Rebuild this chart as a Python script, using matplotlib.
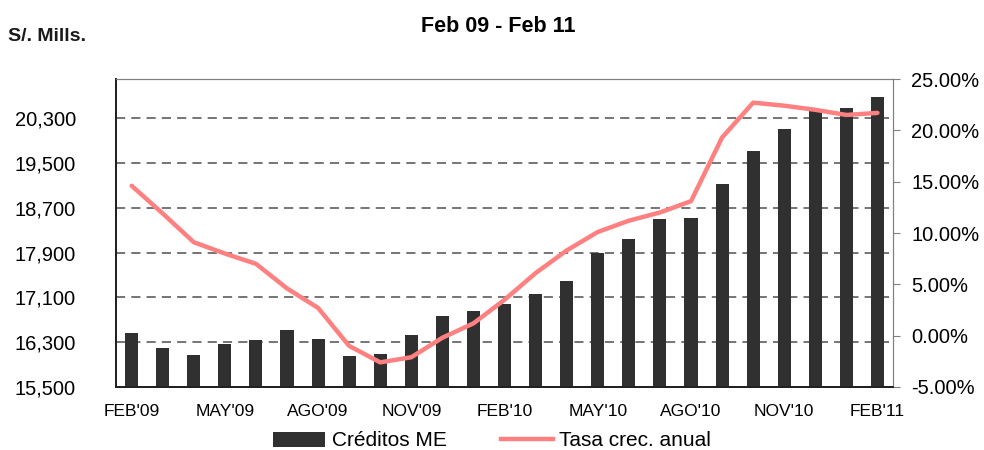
import numpy as np
import matplotlib.pyplot as plt
from matplotlib.patches import Patch
from matplotlib.lines import Line2D

plt.rcParams['font.family'] = ['Liberation Sans', 'DejaVu Sans']

# Monthly data Feb'09 - Feb'11
months = ["FEB'09", "MAR'09", "ABR'09", "MAY'09", "JUN'09", "JUL'09", "AGO'09",
          "SET'09", "OCT'09", "NOV'09", "DIC'09", "ENE'10", "FEB'10", "MAR'10",
          "ABR'10", "MAY'10", "JUN'10", "JUL'10", "AGO'10", "SET'10", "OCT'10",
          "NOV'10", "DIC'10", "ENE'11", "FEB'11"]
creditos_me = [16460, 16200, 16070, 16270, 16340, 16520, 16360, 16050, 16090,
               16430, 16770, 16860, 16990, 17160, 17390, 17900, 18140, 18500,
               18520, 19120, 19710, 20110, 20420, 20480, 20680]
tasa_crec = [14.6, 11.9, 9.1, 8.0, 7.0, 4.6, 2.7, -1.0, -2.6, -2.1, -0.2, 1.2,
             3.5, 6.1, 8.3, 10.1, 11.2, 12.0, 13.1, 19.3, 22.7, 22.4, 22.0,
             21.5, 21.7]
left_ticks = [15500, 16300, 17100, 17900, 18700, 19500, 20300]
right_ticks = [-5, 0, 5, 10, 15, 20, 25]

x = np.arange(len(months))

fig = plt.figure(figsize=(9.84, 4.5), dpi=100)
ax = fig.add_axes([0.118, 0.14, 0.7895, 0.6844])
ax2 = ax.twinx()

# bars
ax.bar(x, creditos_me, width=0.42, color='#303030', zorder=3)
ax.set_xlim(-0.5, len(months) - 0.5)
ax.set_ylim(15500, 21000)
ax.set_yticks(left_ticks)
ax.set_yticklabels([f"{v:,.0f}" for v in left_ticks], fontsize=14.5)
ax.tick_params(axis='y', length=0, pad=29)
for v in left_ticks[1:]:
    ax.axhline(v, color='#505050', lw=1.1, ls=(0, (6, 4)), zorder=1)

ax.set_xticks(x[::3])
ax.set_xticklabels(months[::3], fontsize=12.5)
ax.tick_params(axis='x', length=0, pad=12)

# line
ax2.plot(x, tasa_crec, color='#FF8080', lw=3.2, solid_capstyle='round', zorder=4)
ax2.set_ylim(-5, 25)
ax2.set_yticks(right_ticks)
ax2.set_yticklabels([f"{v:.2f}%" for v in right_ticks], fontsize=14.5)
ax2.tick_params(axis='y', length=5, color='#808080', pad=8)

for a in (ax, ax2):
    a.spines['left'].set_color('#202020')
    a.spines['bottom'].set_color('#202020')
    a.spines['top'].set_color('#808080')
    a.spines['right'].set_color('#808080')
    a.spines['left'].set_linewidth(1.3)
    a.spines['bottom'].set_linewidth(1.3)

fig.text(0.506, 1 - 31.7 / 450, "Feb 09 - Feb 11", ha='center', va='baseline',
         fontsize=15.5, fontweight='bold')
fig.text(0.008, 1 - 40.7 / 450, "S/. Mills.", ha='left', va='baseline',
         fontsize=14, fontweight='bold', color='#1a1a1a')

handles = [Patch(facecolor='#303030', label='Créditos ME'),
           Line2D([0], [0], color='#FF8080', lw=3.2, label='Tasa crec. anual')]
fig.legend(handles=handles, loc='center', bbox_to_anchor=(0.5, 0.02), ncol=2,
           frameon=False, fontsize=15, handlelength=2.5, handletextpad=0.29,
           columnspacing=2.6, borderpad=0)

fig.savefig('out.png', dpi=100)
